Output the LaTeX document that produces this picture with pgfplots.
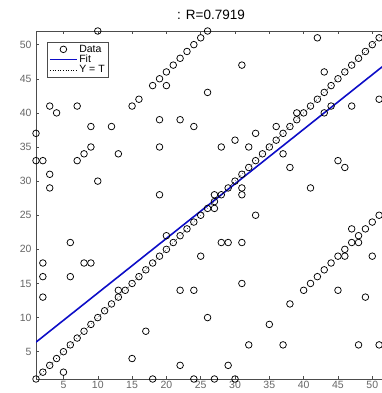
\documentclass[border=0pt]{standalone}
\usepackage{pgfplots}
\pgfplotsset{compat=1.18}
\usepackage{fontspec}
\setmainfont{Liberation Sans}
\definecolor{fitblue}{rgb}{0.05,0.05,0.78}
\begin{document}
\begin{tikzpicture}
\begin{axis}[
  at={(0,0)}, anchor=south west,
  scale only axis, width=350pt, height=348pt,
  xmin=1, xmax=52, ymin=1, ymax=52,
  xtick={5,10,...,50}, ytick={5,10,...,50},
  /pgf/number format/assume math mode=true,
  tick label style={font=\fontsize{10.5}{12}\selectfont, text=black!60},
  xticklabel style={yshift=1pt},
  yticklabel style={xshift=-1pt},
  axis line style={black!70, line width=0.6pt},
  major tick style={black!70, line width=0.5pt},
  major tick length=3pt,
  title={: R=0.7919},
  title style={font=\fontsize{13.5}{15}\selectfont, yshift=2pt},
  legend style={at={(0.031,0.968)}, anchor=north west, draw=black!70,
    line width=0.5pt, font=\fontsize{10.5}{11}\selectfont,
    inner xsep=2pt, inner ysep=1pt, row sep=-1.8pt,
    nodes={inner sep=1.6pt}},
  legend cell align=left,
  legend image code/.code={\draw[mark repeat=2,mark phase=2] plot coordinates {(0pt,0pt) (13.5pt,0pt) (27pt,0pt)};},
]
\addplot[only marks, mark=o, mark size=3.3pt, mark options={line width=0.75pt, black}] coordinates {
(1,1)(2,2)(3,3)(4,4)(5,5)(6,6)(7,7)(8,8)(9,9)(10,10)
(11,11)(12,12)(13,13)(14,14)(15,15)(16,16)(17,17)(18,18)(19,19)(20,20)
(21,21)(22,22)(23,23)(24,24)(25,25)(26,26)(27,27)(28,28)(29,29)(30,30)
(31,31)(32,32)(33,33)(34,34)(35,35)(36,36)(37,37)(38,38)(39,39)(40,40)
(41,41)(42,42)(43,43)(44,44)(45,45)(46,46)(47,47)(48,48)(49,49)(50,50)(51,51)
(38,12)(40,14)(41,15)(42,16)(43,17)(44,18)(45,19)(46,20)(47,21)(48,22)(49,23)(50,24)(51,25)
(15,41)(16,42)(18,44)(19,45)(20,46)(21,47)(22,48)(23,49)(24,50)(25,51)(26,52)
(10,52)(3,41)(4,40)(7,41)(9,38)(12,38)(20,44)(31,47)(26,43)(19,39)
(22,39)(24,38)(42,51)(43,46)(51,42)(43,40)(44,41)(47,41)(39,40)(36,38)
(1,37)(1,33)(2,33)(3,31)(3,29)(7,33)(8,34)(9,35)(10,30)(13,34)
(6,21)(19,35)(28,35)(30,36)(32,35)(19,28)(33,25)(28,21)(29,21)(31,21)
(25,19)(31,29)(31,28)(27,28)(27,26)(20,22)(33,37)(37,34)(38,32)(45,33)
(46,32)(41,29)(47,23)(48,21)(46,19)(50,19)(2,18)(2,16)(2,13)(6,16)
(8,18)(9,18)(13,14)(5,2)(15,4)(22,14)(24,14)(31,15)(26,10)(17,8)
(32,6)(22,3)(29,3)(18,1)(24,1)(27,1)(30,1)(45,14)(49,13)(35,9)
(37,6)(48,6)(51,6)
};
\addlegendentry{Data}
\addplot[fitblue, line width=1.6pt] coordinates {(1,6.4) (52,47.2)};
\addlegendentry{Fit}
\addplot[black, dotted, line width=0.6pt] coordinates {(1,1) (52,52)};
\addlegendentry{Y = T}
\end{axis}
\pgfresetboundingbox
\path[use as bounding box] (-36pt,-14pt) rectangle (346pt,379pt);
\end{tikzpicture}
\end{document}
